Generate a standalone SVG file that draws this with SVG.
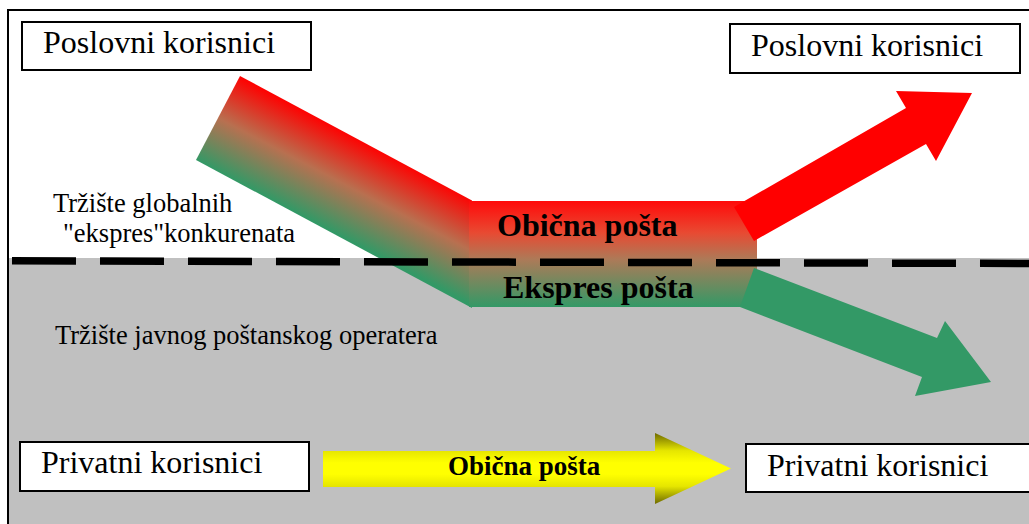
<svg xmlns="http://www.w3.org/2000/svg" width="1029" height="524" viewBox="0 0 1029 524">
  <defs>
    <style>
      .box { fill: #ffffff; stroke: #000000; stroke-width: 2; }
      .lbl { font-family: "Liberation Serif", "Times New Roman", serif; font-size: 32px; fill: #000000; }
      .zone { font-family: "Liberation Serif", "Times New Roman", serif; font-size: 26.5px; fill: #000000; }
      .flow { font-family: "Liberation Serif", "Times New Roman", serif; font-weight: bold; fill: #000000; }
    </style>
    <!-- mixed stream entering from the upper left: red on top, green below -->
    <linearGradient id="bandGrad" gradientUnits="userSpaceOnUse" x1="240" y1="76" x2="196" y2="160">
      <stop offset="0" stop-color="#ff0000"/>
      <stop offset="0.5" stop-color="#b87050"/>
      <stop offset="1" stop-color="#339966"/>
    </linearGradient>
    <linearGradient id="mixGrad" gradientUnits="userSpaceOnUse" x1="0" y1="201" x2="0" y2="307">
      <stop offset="0" stop-color="#ff0a0a"/>
      <stop offset="0.3" stop-color="#e84a32"/>
      <stop offset="0.55" stop-color="#ad7a58"/>
      <stop offset="1" stop-color="#339966"/>
    </linearGradient>
    <linearGradient id="yellowGrad" gradientUnits="userSpaceOnUse" x1="0" y1="433" x2="0" y2="504">
      <stop offset="0" stop-color="#6e6a00"/>
      <stop offset="0.25" stop-color="#e6e600"/>
      <stop offset="0.42" stop-color="#ffff00"/>
      <stop offset="0.58" stop-color="#ffff00"/>
      <stop offset="0.75" stop-color="#e6e600"/>
      <stop offset="1" stop-color="#6e6a00"/>
    </linearGradient>
  </defs>

  <!-- background: global courier market (white) over public operator market (grey) -->
  <rect x="0" y="0" width="1029" height="524" fill="#ffffff"/>
  <rect x="8" y="258" width="1021" height="266" fill="#c0c0c0"/>

  <g id="connectors">
    <!-- incoming combined flow -->
    <polygon points="240,76 472,200.5 472,308 196,160" fill="url(#bandGrad)"/>
    <rect x="469" y="201" width="288" height="106" fill="url(#mixGrad)"/>
    <!-- ordinary mail out to business users -->
    <polygon points="734,207 906,108 896,91 972,93 936,161 926,144 754,241" fill="#ff0000"/>
    <!-- express mail down to the public operator market -->
    <polygon points="754,268 937,338 945,321 991,382 915,396 922,377 740,307" fill="#339966"/>
    <!-- ordinary mail between private users -->
    <polygon points="323,451 655,451 655,433 731,468.5 655,504 655,487 323,487" fill="url(#yellowGrad)"/>
    <text class="flow" x="497" y="236" font-size="32">Obična pošta</text>
    <text class="flow" x="503" y="298" font-size="32">Ekspres pošta</text>
    <text class="flow" x="448" y="475" font-size="27">Obična pošta</text>
  </g>

  <!-- market boundary -->
  <line x1="12" y1="260.8" x2="1029" y2="263.5" stroke="#000000" stroke-width="7.5" stroke-dasharray="64 24"/>

  <text class="zone" x="53" y="212">Tržište globalnih</text>
  <text class="zone" x="63" y="242">"ekspres"konkurenata</text>
  <text class="zone" x="55" y="344">Tržište javnog poštanskog operatera</text>

  <g id="business-src">
    <rect class="box" x="22" y="22" width="289" height="48"/>
    <text class="lbl" x="43" y="53">Poslovni korisnici</text>
  </g>
  <g id="business-dst">
    <rect class="box" x="730" y="24" width="290" height="49"/>
    <text class="lbl" x="751" y="56">Poslovni korisnici</text>
  </g>
  <g id="private-src">
    <rect class="box" x="20" y="442" width="289" height="49"/>
    <text class="lbl" x="41" y="473">Privatni korisnici</text>
  </g>
  <g id="private-dst">
    <rect class="box" x="746" y="444" width="290" height="48"/>
    <text class="lbl" x="767" y="476">Privatni korisnici</text>
  </g>

  <!-- outer frame -->
  <path d="M8,524 V10 H1029" fill="none" stroke="#000000" stroke-width="2"/>
</svg>
